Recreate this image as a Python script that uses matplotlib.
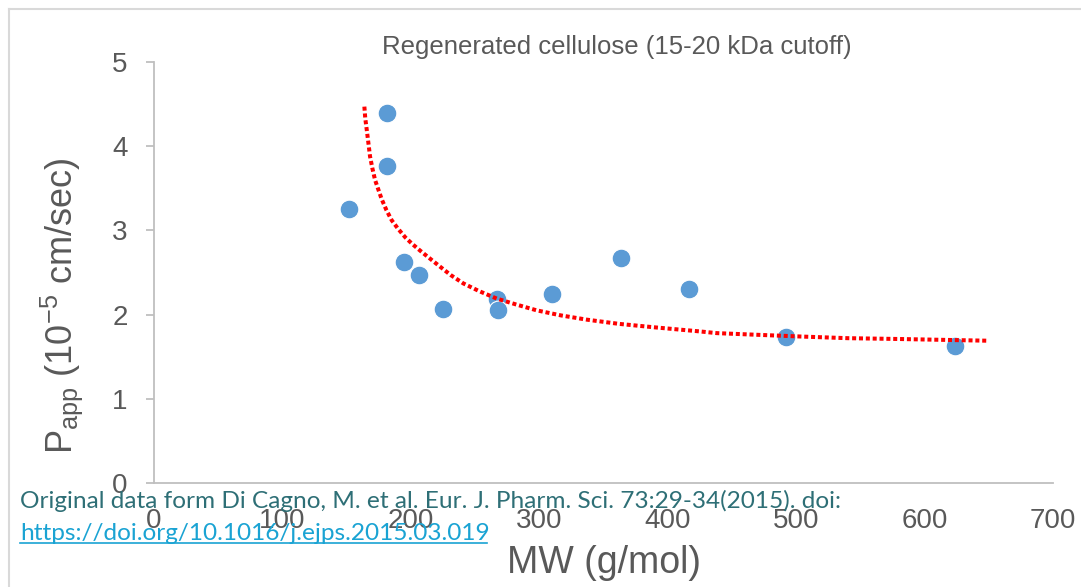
import numpy as np
import matplotlib
matplotlib.use('Agg')
from matplotlib import pyplot as plt
from matplotlib.lines import Line2D

plt.rcParams['font.family'] = ['Liberation Sans', 'DejaVu Sans']
plt.rcParams['mathtext.fontset'] = 'custom'
plt.rcParams['mathtext.rm'] = 'Liberation Sans'

# measured data (MW in g/mol, Papp in 1e-5 cm/sec)
mw = [151.9, 181.2, 181.2, 195.0, 206.6, 225.3, 266.9, 267.7, 310.2, 363.7, 416.9, 492.0, 624.0]
papp = [3.25, 4.40, 3.77, 2.62, 2.47, 2.07, 2.19, 2.05, 2.24, 2.67, 2.30, 1.73, 1.63]

# trend curve
trend_x = [163.8, 164.5, 165.7, 167.0, 168.2, 170.0, 172.1, 174.8, 177.3, 181.0, 185.1, 190.0,
           195.5, 201.0, 207.2, 214.5, 222.7, 231.0, 240.9, 253.0, 266.9, 282.0, 298.1, 317.0,
           337.0, 362.0, 388.9, 425.2, 438.2, 470.0, 503.1, 540.0, 581.0, 648.5]
trend_y = [4.47, 4.33, 4.19, 4.03, 3.88, 3.74, 3.60, 3.48, 3.37, 3.24, 3.12, 3.02,
           2.92, 2.84, 2.76, 2.67, 2.57, 2.47, 2.37, 2.28, 2.19, 2.12, 2.05, 1.99,
           1.94, 1.89, 1.85, 1.80, 1.78, 1.76, 1.74, 1.72, 1.71, 1.69]

x_ticks = [0, 100, 200, 300, 400, 500, 600, 700]
y_ticks = [0, 1, 2, 3, 4, 5]

grey_txt = '#595959'
axis_col = '#bfbfbf'

fig = plt.figure(figsize=(10.81, 5.87), dpi=100)
ax = fig.add_axes([154 / 1081, 1 - 483 / 587, (1053 - 154) / 1081, (483 - 62) / 587])

ax.plot(trend_x, trend_y, color='#ff0000', linewidth=2.9, dashes=(1, 0.7),
        dash_capstyle='butt', solid_joinstyle='round', zorder=3)
ax.plot(mw, papp, linestyle='none', marker='o', markersize=13.5,
        markerfacecolor='#5b9bd5', markeredgecolor='white', markeredgewidth=0.8, zorder=2)

ax.set_xlim(0, 700)
ax.set_ylim(0, 5)
ax.set_xticks(x_ticks)
ax.set_yticks(y_ticks)

for s in ['top', 'right']:
    ax.spines[s].set_visible(False)
for s in ['left', 'bottom']:
    ax.spines[s].set_color(axis_col)
    ax.spines[s].set_linewidth(1.3)

ax.tick_params(axis='y', length=6, width=1.3, color=axis_col, labelsize=20,
               labelcolor=grey_txt, pad=13)
ax.tick_params(axis='x', length=0, labelsize=20, labelcolor=grey_txt, pad=18)

fig.text(617 / 1081, 1 - 47 / 587, 'Regenerated cellulose (15-20 kDa cutoff)',
         fontsize=18.5, color=grey_txt, ha='center', va='center')

fig.text(62 / 1081, 1 - 306 / 587, r'P$_{\mathregular{app}}$ (10$^{\mathregular{-5}}$ cm/sec)',
         rotation=90, fontsize=26, color=grey_txt, ha='center', va='center')
fig.text(604 / 1081, 1 - 563 / 587, 'MW (g/mol)', fontsize=27, color=grey_txt,
         ha='center', va='center')

# source note
fig.text(20 / 1081, 1 - 508 / 587,
         'Original data form Di Cagno, M. et al. Eur. J. Pharm. Sci. 73:29-34(2015). doi:',
         fontsize=17.6, color='#2e6f76', family=['Lato', 'DejaVu Sans'], va='baseline')
fig.text(20 / 1081, 1 - 540 / 587, 'https://doi.org/10.1016/j.ejps.2015.03.019',
         fontsize=17.6, color='#1aa3d3', family=['Lato', 'DejaVu Sans'], va='baseline')
fig.add_artist(Line2D([20 / 1081, 487 / 1081], [1 - 543 / 587, 1 - 543 / 587],
                      color='#1aa3d3', linewidth=1.2))

# outer frame of the chart area
fig.add_artist(Line2D([9 / 1081, 1.0], [1 - 9 / 587, 1 - 9 / 587], color='#d9d9d9', linewidth=1.5))
fig.add_artist(Line2D([9 / 1081, 9 / 1081], [0, 1 - 9 / 587], color='#d9d9d9', linewidth=1.5))

fig.savefig('out.png', dpi=100)
